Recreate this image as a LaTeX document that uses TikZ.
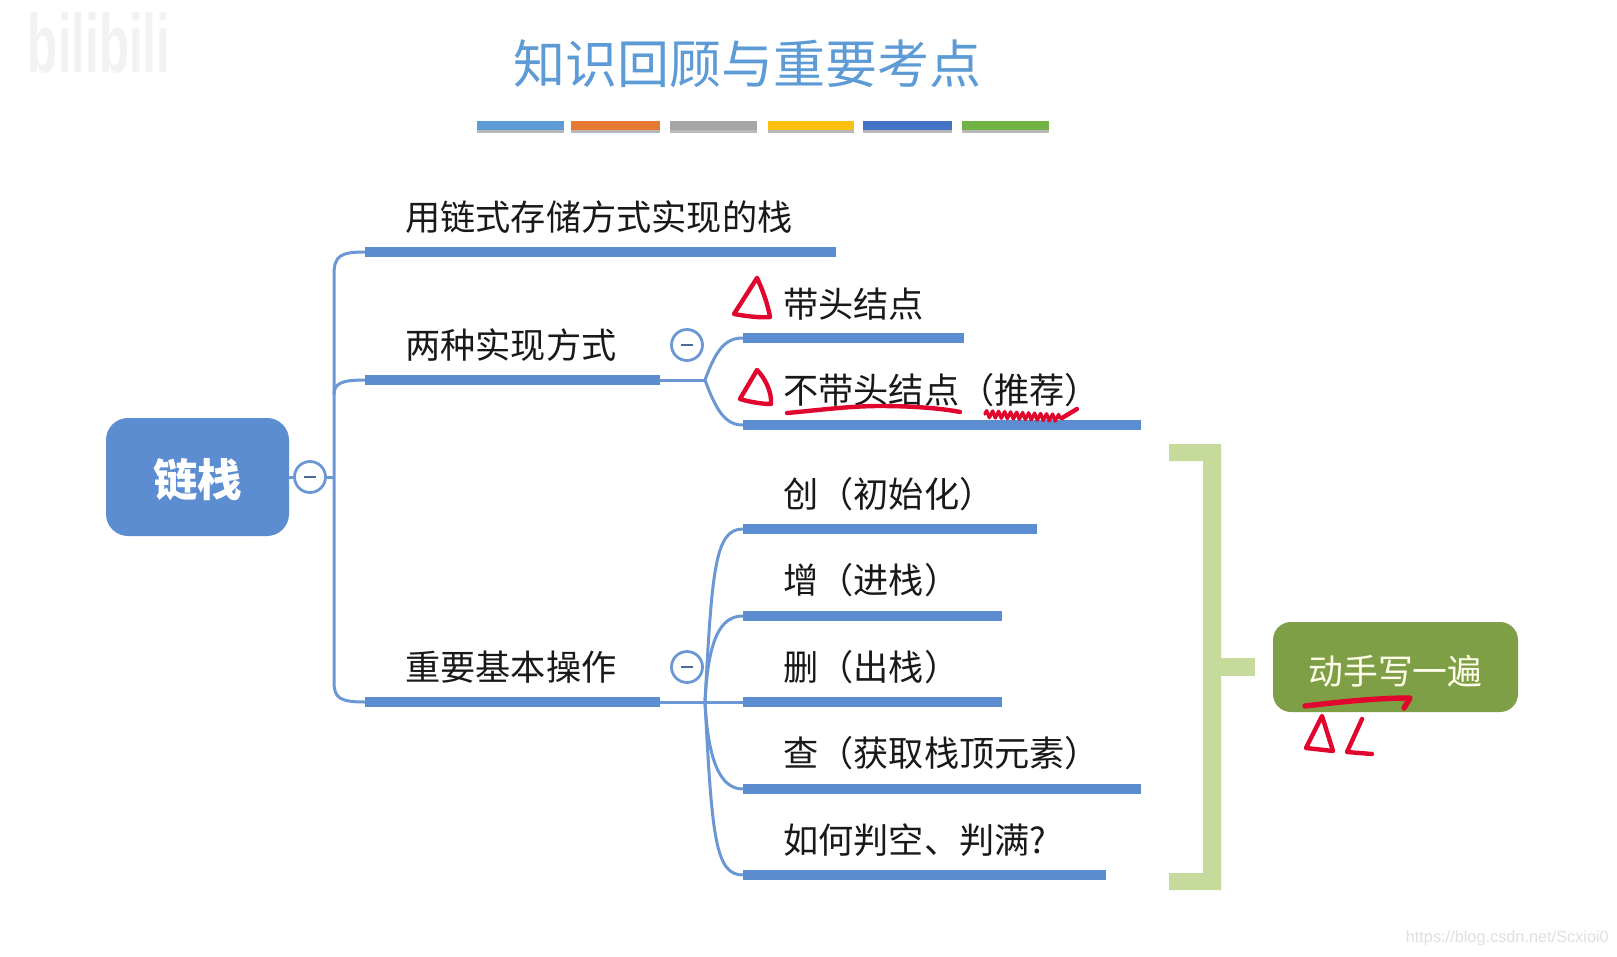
\documentclass[tikz,border=0pt]{standalone}
\usepackage{fontspec}
\setmainfont{Noto Sans CJK SC}
\newfontfamily\latinwm{Liberation Sans}
\usetikzlibrary{decorations.pathmorphing}
\definecolor{mapblue}{HTML}{5B8DD0}
\definecolor{linkblue}{HTML}{6B98D5}
\definecolor{titleblue}{HTML}{5C9BD5}
\definecolor{bracketgreen}{HTML}{C6DA9C}
\definecolor{boxgreen}{HTML}{7F9F47}
\definecolor{inkred}{HTML}{E0062D}
\definecolor{cbar2}{HTML}{E67A33}
\definecolor{cbar3}{HTML}{A5A5A5}
\definecolor{cbar4}{HTML}{FCC00E}
\definecolor{cbar5}{HTML}{4472C4}
\definecolor{cbar6}{HTML}{70B244}
\tikzset{
  x=1pt,y=-1pt,
  txt/.style={anchor=west,inner sep=0pt,text=black!90,font=\fontsize{35.2}{35.2}\selectfont},
  bar/.style={fill=mapblue,draw=none,inner sep=0pt,minimum height=10.5pt,rectangle},
  link/.style={draw=linkblue,line width=3pt},
  tog/.style={circle,draw=linkblue,line width=2.8pt,fill=white,minimum size=31pt,inner sep=0pt},
  togminus/.style={draw=black!30!linkblue,line width=2.8pt},
  colorbar/.style={draw=none,inner sep=0pt,minimum height=9pt,rectangle,preaction={fill=black!28,transform canvas={yshift=-3pt}}},
  ink/.style={draw=inkred,line width=4.4pt,line cap=round,line join=round},
  brk/.style={fill=bracketgreen,draw=none}
}
\begin{document}
\begin{tikzpicture}
\useasboundingbox[fill=white] (0,0) rectangle (1617,956);
% watermarks
\node[inner sep=0pt,text=black!5] (wm1) at (99,43) {\resizebox{142pt}{60pt}{\latinwm\bfseries bilibili}};
\node[inner sep=0pt,text=black!12,font=\latinwm\fontsize{16.3}{17}\selectfont,anchor=east] (wm2) at (1609,938) {https://blog.csdn.net/Scxioi0};
% title
\node[inner sep=0pt,text=titleblue,font=\fontsize{52}{52}\selectfont] (title) at (747.5,64) {知识回顾与重要考点};
\node[colorbar,fill=titleblue,minimum width=87pt] (c1) at (520,125) {};
\node[colorbar,fill=cbar2,minimum width=89pt] (c2) at (615.5,125) {};
\node[colorbar,fill=cbar3,minimum width=87pt] (c3) at (713.5,125) {};
\node[colorbar,fill=cbar4,minimum width=86pt] (c4) at (811,125) {};
\node[colorbar,fill=cbar5,minimum width=89pt] (c5) at (907.5,125) {};
\node[colorbar,fill=cbar6,minimum width=87pt] (c6) at (1005.5,125) {};
% root
\node[fill=mapblue,rounded corners=22pt,minimum width=183pt,minimum height=118pt,inner sep=0pt,text=white,font=\fontsize{44.5}{44}\selectfont\bfseries] (root) at (197.5,477) {\smash{\raisebox{\dimexpr-.38em-2.5pt}{链栈}}};
\node[tog] (t0) at (310,477) {};
\coordinate (trunk) at (334,477);
\coordinate (tmid) at (334,395);
% level 1 bars
\node[bar,minimum width=471pt] (b1) at (600.5,252) {};
\node[bar,minimum width=295pt] (b2) at (512.5,380) {};
\node[bar,minimum width=295pt] (b3) at (512.5,702) {};
% level 1 text
\node[txt] (l1) at (405,217) {用链式存储方式实现的栈};
\node[txt] (l2) at (405,345) {两种实现方式};
\node[txt] (l3) at (405,667) {重要基本操作};
% level 2 toggles
\node[tog] (t1) at (687,345) {};
\node[tog] (t2) at (687,667) {};
\coordinate (j1) at (705,380);
\coordinate (j2) at (705,702);
% level 2 bars
\node[bar,minimum width=221pt] (s1) at (853.5,338) {};
\node[bar,minimum width=398pt] (s2) at (942,425) {};
\node[bar,minimum width=294pt] (o1) at (890,529) {};
\node[bar,minimum width=259pt] (o2) at (872.5,616) {};
\node[bar,minimum width=259pt] (o3) at (872.5,702) {};
\node[bar,minimum width=398pt] (o4) at (942,789) {};
\node[bar,minimum width=363pt] (o5) at (924.5,875) {};
% level 2 text
\node[txt] (s1t) at (783,304) {带头结点};
\node[txt] (s2t) at (783,390) {不带头结点（推荐）};
\node[txt] (o1t) at (783,494) {创（初始化）};
\node[txt] (o2t) at (783,580) {增（进栈）};
\node[txt] (o3t) at (783,667) {删（出栈）};
\node[txt] (o4t) at (783,753) {查（获取栈顶元素）};
\node[txt] (o5t) at (783,840) {如何判空、判满?};
% connectors
\draw[link] (root.east) -- (t0.west);
\draw[link] (t0.east) -- (trunk);
\draw[link] (b1.west) .. controls (340,252) and (334,256) .. (334,275) -- (334,682) .. controls (334,698) and (340,702) .. (b3.west);
\draw[link] (tmid) .. controls (334,384) and (340,380) .. (b2.west);
\draw[link] (b2.east) -- (j1);
\draw[link] (j1) .. controls (716,350) and (725,338) .. (s1.west);
\draw[link] (j1) .. controls (716,410) and (725,425) .. (s2.west);
\draw[link] (b3.east) -- (o3.west);
\draw[link] (j2) .. controls (712,570) and (715,529) .. (o1.west);
\draw[link] (j2) .. controls (708,640) and (720,616) .. (o2.west);
\draw[link] (j2) .. controls (708,760) and (720,789) .. (o4.west);
\draw[link] (j2) .. controls (712,835) and (715,875) .. (o5.west);
\foreach \t in {t0,t1,t2}{
  \draw[togminus] ([xshift=-6pt]\t.center) -- ([xshift=6pt]\t.center);
}
% bracket
\node[fill=boxgreen,rounded corners=18pt,minimum width=245pt,minimum height=90pt,inner sep=0pt,text=white!92!yellow,font=\fontsize{34.8}{34.8}\selectfont] (act) at (1395.5,667) {\smash{\raisebox{\dimexpr-.38em-4pt}{动手写一遍}}};
\fill[brk] (1169,444) -- (1221,444) -- (1221,890) -- (1169,890) -- (1169,873) -- (1203,873) -- (1203,461) -- (1169,461) -- cycle;
\coordinate (brk) at (1221,667);
\coordinate (brkend) at (1255,667);
\draw[draw=bracketgreen,line width=18pt] (brk) -- (brkend);
% red pen strokes
\draw[ink] (757,278) -- (734,314) .. controls (745,316) and (760,318) .. (770,317) .. controls (768,305) and (762,288) .. (757,278);
\draw[ink] (757,370) .. controls (750,382) and (744,392) .. (740,399) .. controls (750,402) and (762,404) .. (771,404) .. controls (772,392) and (765,378) .. (757,370);
\draw[ink] (787,413) .. controls (820,410) and (850,406) .. (880,406) .. controls (910,406) and (940,408) .. (960,412);
\draw[ink,line width=3.4pt,decorate,decoration={zigzag,segment length=6pt,amplitude=3.4pt}] (985,414) -- (1062,418);
\draw[ink] (1062,418) -- (1077,409);
\draw[ink,line width=5.4pt] (1305,706) .. controls (1340,702) and (1375,698) .. (1410,698) -- (1404,708);
\draw[ink] (1322,716) -- (1306,748) -- (1333,751) -- cycle;
\draw[ink] (1362,719) -- (1347,752) -- (1372,754);
\end{tikzpicture}
\end{document}
